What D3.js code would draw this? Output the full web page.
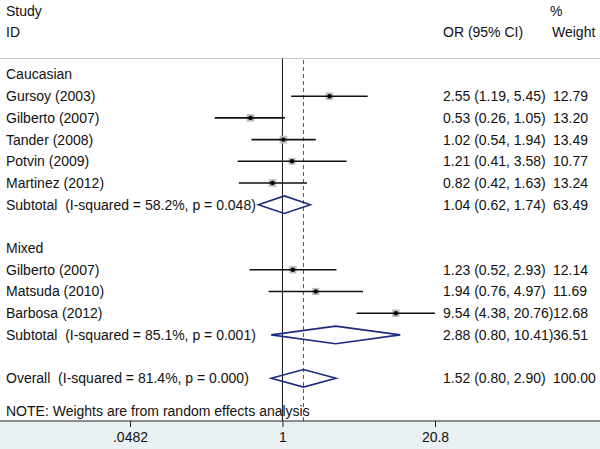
<!DOCTYPE html>
<html>
<head>
<meta charset="utf-8">
<script src="https://cdn.jsdelivr.net/npm/d3@7"></script>
<style>
  body { margin: 0; background: #fff; }
  text { font-family: "Liberation Sans", Arial, sans-serif; font-size: 14px; fill: #111; white-space: pre; }
</style>
</head>
<body>
<div id="chart"></div>
<script>
// forest plot data
var groupNames = ["Caucasian", "Mixed"];
var studyNames = ["Gursoy (2003)", "Gilberto (2007)", "Tander (2008)", "Potvin (2009)", "Martinez (2012)",
                  "Gilberto (2007)", "Matsuda (2010)", "Barbosa (2012)"];
var studyGroup = [0, 0, 0, 0, 0, 1, 1, 1];
var studyOR    = [2.55, 0.53, 1.02, 1.21, 0.82, 1.23, 1.94, 9.54];
var studyLow   = [1.19, 0.26, 0.54, 0.41, 0.42, 0.52, 0.76, 4.38];
var studyHigh  = [5.45, 1.05, 1.94, 3.58, 1.63, 2.93, 4.97, 20.76];
var studyWeight = [12.79, 13.20, 13.49, 10.77, 13.24, 12.14, 11.69, 12.68];

var subLabels = ["Subtotal  (I-squared = 58.2%, p = 0.048)", "Subtotal  (I-squared = 85.1%, p = 0.001)"];
var subOR     = [1.04, 2.88];
var subLow    = [0.62, 0.80];
var subHigh   = [1.74, 10.41];
var subWeight = [63.49, 36.51];

var overallLabel = "Overall  (I-squared = 81.4%, p = 0.000)";
var overallOR = 1.52, overallLow = 0.80, overallHigh = 2.90, overallWeight = 100.00;

var tickValues = [0.0482, 1, 20.8];
var tickLabels = [".0482", "1", "20.8"];
var noteText = "NOTE: Weights are from random effects analysis";

var width = 600, height = 449;
var axisY = 421;

var svg = d3.select("#chart").append("svg")
    .attr("width", width)
    .attr("height", height);

// log scale for odds ratios
var x = d3.scaleLog().domain([0.0482, 20.8]).range([130, 435]);
// row index -> y
var y = d3.scaleLinear().domain([0, 14]).range([74.5, 378.3]);

// build rows
var rows = [];
var r = 0;
groupNames.forEach(function(g, gi) {
  rows.push({type: "group", label: g, row: r++});
  studyNames.forEach(function(name, i) {
    if (studyGroup[i] !== gi) return;
    rows.push({type: "study", label: name, or: studyOR[i], lo: studyLow[i], hi: studyHigh[i], w: studyWeight[i], row: r++});
  });
  rows.push({type: "sub", label: subLabels[gi], or: subOR[gi], lo: subLow[gi], hi: subHigh[gi], w: subWeight[gi], row: r++});
  r++; // blank line
});
rows.push({type: "sub", label: overallLabel, or: overallOR, lo: overallLow, hi: overallHigh, w: overallWeight, row: r});

// axis band
svg.append("rect")
    .attr("x", 0).attr("y", axisY)
    .attr("width", width).attr("height", height - axisY)
    .attr("fill", "#e8f0f3");

// header
svg.append("line")
    .attr("x1", 0).attr("x2", width)
    .attr("y1", 58.5).attr("y2", 58.5)
    .attr("stroke", "#c8c8c8").attr("stroke-width", 1);
svg.append("text").attr("x", 6).attr("y", 11).attr("dy", "0.35em").text("Study");
svg.append("text").attr("x", 6).attr("y", 32).attr("dy", "0.35em").text("ID");
svg.append("text").attr("x", 443).attr("y", 32).attr("dy", "0.35em").text("OR (95% CI)");
svg.append("text").attr("x", 550).attr("y", 11).attr("dy", "0.35em").text("%");
svg.append("text").attr("x", 552).attr("y", 32).attr("dy", "0.35em").text("Weight");

// null line and overall line
svg.append("line")
    .attr("x1", x(1)).attr("x2", x(1))
    .attr("y1", 58.5).attr("y2", axisY)
    .attr("stroke", "#111").attr("stroke-width", 1);
svg.append("line")
    .attr("x1", x(overallOR)).attr("x2", x(overallOR))
    .attr("y1", 60).attr("y2", axisY)
    .attr("stroke", "#a8343c").attr("stroke-width", 1)
    .attr("stroke-dasharray", "4,3");

// left labels
svg.selectAll(".lab")
    .data(rows)
    .enter().append("text")
    .attr("class", "lab")
    .attr("x", 6)
    .attr("y", function(d) { return y(d.row); })
    .attr("dy", "0.35em")
    .text(function(d) { return d.label; });

// estimates text
var fmt = d3.format(".2f");
var est = rows.filter(function(d) { return d.type !== "group"; });
svg.selectAll(".ci")
    .data(est)
    .enter().append("text")
    .attr("class", "ci")
    .attr("x", 443)
    .attr("y", function(d) { return y(d.row); })
    .attr("dy", "0.35em")
    .text(function(d) { return fmt(d.or) + " (" + fmt(d.lo) + ", " + fmt(d.hi) + ")"; });
svg.selectAll(".wt")
    .data(est)
    .enter().append("text")
    .attr("class", "wt")
    .attr("x", 553)
    .attr("y", function(d) { return y(d.row); })
    .attr("dy", "0.35em")
    .text(function(d) { return fmt(d.w); });

// studies
var st = svg.selectAll(".study")
    .data(rows.filter(function(d) { return d.type === "study"; }))
    .enter().append("g")
    .attr("class", "study");
st.append("rect")
    .attr("x", function(d) { var s = Math.sqrt(d.w) * 2.1; return x(d.or) - s / 2; })
    .attr("y", function(d) { var s = Math.sqrt(d.w) * 2.1; return y(d.row) - s / 2; })
    .attr("width", function(d) { return Math.sqrt(d.w) * 2.1; })
    .attr("height", function(d) { return Math.sqrt(d.w) * 2.1; })
    .attr("fill", "#bdbdbd");
st.append("line")
    .attr("x1", function(d) { return x(d.lo); })
    .attr("x2", function(d) { return x(d.hi); })
    .attr("y1", function(d) { return y(d.row); })
    .attr("y2", function(d) { return y(d.row); })
    .attr("stroke", "#111").attr("stroke-width", 1.6);
st.append("circle")
    .attr("cx", function(d) { return x(d.or); })
    .attr("cy", function(d) { return y(d.row); })
    .attr("r", 2.2)
    .attr("fill", "#000");

// diamonds
svg.selectAll(".diamond")
    .data(rows.filter(function(d) { return d.type === "sub"; }))
    .enter().append("path")
    .attr("class", "diamond")
    .attr("d", function(d) {
      var cy = y(d.row), h = 8.8;
      return "M" + x(d.lo) + "," + cy + "L" + x(d.or) + "," + (cy - h) +
             "L" + x(d.hi) + "," + cy + "L" + x(d.or) + "," + (cy + h) + "Z";
    })
    .attr("fill", "none")
    .attr("stroke", "#1b2b7f")
    .attr("stroke-width", 1.6);

// note
svg.append("text").attr("x", 6).attr("y", 411).attr("dy", "0.35em").text(noteText);

// x axis
var axis = d3.axisBottom(x)
    .tickValues(tickValues)
    .tickFormat(function(d, i) { return tickLabels[i]; })
    .tickSize(6)
    .tickPadding(5);
var ax = svg.append("g")
    .attr("transform", "translate(0," + axisY + ")")
    .call(axis);
ax.select(".domain").remove();
ax.selectAll(".tick line").attr("stroke", "#222");
ax.selectAll("text")
    .style("font-family", "\"Liberation Sans\", Arial, sans-serif")
    .style("font-size", "14px")
    .attr("fill", "#111");
svg.append("line")
    .attr("x1", 0).attr("x2", width)
    .attr("y1", axisY).attr("y2", axisY)
    .attr("stroke", "#222").attr("stroke-width", 1);
</script>
</body>
</html>
